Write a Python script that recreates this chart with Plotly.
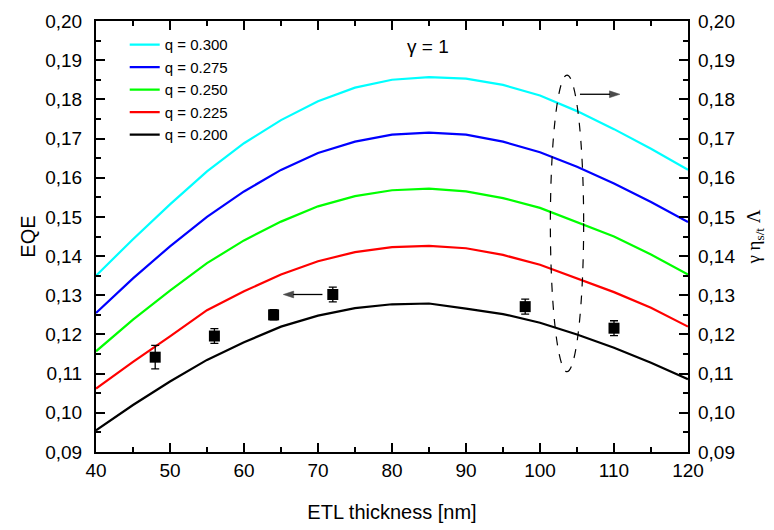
import plotly.graph_objects as go

# ---- data ----
thickness = [40, 45, 50, 55, 60, 65, 70, 75, 80, 85, 90, 95, 100, 105, 110, 115, 120]
q_labels = ["q = 0.300", "q = 0.275", "q = 0.250", "q = 0.225", "q = 0.200"]
q_colors = ["#00FFFF", "#0000FF", "#00FF00", "#FF0000", "#000000"]
eqe_q300 = [0.1350, 0.1443, 0.1532, 0.1616, 0.1688, 0.1747, 0.1795, 0.1830, 0.1850, 0.1857, 0.1853, 0.1837, 0.1810, 0.1770, 0.1724, 0.1674, 0.1620]
eqe_q275 = [0.1255, 0.1343, 0.1425, 0.1500, 0.1565, 0.1620, 0.1663, 0.1692, 0.1710, 0.1715, 0.1710, 0.1692, 0.1665, 0.1628, 0.1585, 0.1538, 0.1487]
eqe_q250 = [0.1157, 0.1238, 0.1312, 0.1382, 0.1440, 0.1488, 0.1527, 0.1553, 0.1568, 0.1572, 0.1565, 0.1548, 0.1523, 0.1486, 0.1450, 0.1404, 0.1353]
eqe_q225 = [0.1062, 0.1130, 0.1195, 0.1262, 0.1310, 0.1353, 0.1387, 0.1410, 0.1423, 0.1426, 0.1420, 0.1403, 0.1378, 0.1344, 0.1308, 0.1268, 0.1220]
eqe_q200 = [0.0955, 0.1020, 0.1080, 0.1135, 0.1180, 0.1220, 0.1248, 0.1267, 0.1277, 0.1279, 0.1266, 0.1252, 0.1230, 0.1200, 0.1166, 0.1128, 0.1086]
curves = [eqe_q300, eqe_q275, eqe_q250, eqe_q225, eqe_q200]

exp_thickness = [48, 56, 64, 72, 98, 110]
exp_eqe = [0.1142, 0.1196, 0.1250, 0.1302, 0.1271, 0.1216]
exp_err = [0.0030, 0.0019, 0.0013, 0.0019, 0.0019, 0.0019]

x_ticks = [40, 50, 60, 70, 80, 90, 100, 110, 120]
y_ticks = [0.09, 0.10, 0.11, 0.12, 0.13, 0.14, 0.15, 0.16, 0.17, 0.18, 0.19, 0.20]

# pointer arrows (tail -> head)
arrow_left_x = [70.6, 65.3]
arrow_left_y = [0.1302, 0.1302]
arrow_right_x = [105.4, 110.8]
arrow_right_y = [0.1813, 0.1813]

FONT = "Liberation Sans, Arial, sans-serif"

fig = go.Figure()
for lab, col, ys in zip(q_labels, q_colors, curves):
    fig.add_trace(go.Scatter(x=thickness, y=ys, mode="lines", name=lab,
                             line=dict(color=col, width=2.2)))

fig.add_trace(go.Scatter(
    x=exp_thickness, y=exp_eqe, mode="markers", showlegend=False,
    marker=dict(symbol="square", size=11, color="black"),
    error_y=dict(type="data", array=exp_err, visible=True, color="black",
                 thickness=1.3, width=4)))

for ax_, ay_ in [(arrow_left_x, arrow_left_y), (arrow_right_x, arrow_right_y)]:
    fig.add_trace(go.Scatter(
        x=ax_, y=ay_, mode="lines+markers", showlegend=False, hoverinfo="skip",
        line=dict(color="black", width=1.3),
        marker=dict(symbol="arrow", size=[0, 11], angleref="previous", color="black",
                    line=dict(width=0.5, color="black"))))

# invisible trace for right axis
fig.add_trace(go.Scatter(x=[40], y=[0.09], yaxis="y2", mode="markers",
                         marker=dict(opacity=0), showlegend=False, hoverinfo="skip"))

axis_common = dict(showline=True, linecolor="black", linewidth=2, showgrid=False,
                   zeroline=False, ticks="inside", ticklen=9, tickwidth=1.5, automargin=False,
                   tickcolor="black", tickfont=dict(family=FONT, size=19, color="black"))

fig.update_layout(
    width=766, height=522,
    margin=dict(l=88, r=86, t=13, b=78),
    paper_bgcolor="white", plot_bgcolor="white",
    separators=",.",
    font=dict(family=FONT, color="black"),
    xaxis=dict(range=[40, 120], tickvals=x_ticks, mirror="ticks",
               minor=dict(ticks="inside", dtick=5, ticklen=5, tickwidth=1.5, tickcolor="black"),
               title=dict(text="ETL thickness [nm]", font=dict(family=FONT, size=20), standoff=25),
               ticklabelstandoff=0, **axis_common),
    yaxis=dict(range=[0.09, 0.20], tickvals=y_ticks, tickformat=".2f", mirror="ticks",
               minor=dict(ticks="inside", dtick=0.005, ticklen=5, tickwidth=1.5, tickcolor="black"),
               title=dict(text="EQE", font=dict(family=FONT, size=20), standoff=4),
               ticklabelstandoff=8, **axis_common),
    yaxis2=dict(range=[0.09, 0.20], tickvals=y_ticks, tickformat=".2f", overlaying="y",
                side="right", showline=False, showgrid=False, zeroline=False, ticks="",
                automargin=False,
                tickfont=dict(family=FONT, size=19, color="black"), ticklabelstandoff=9,
                title=dict(text="γ η<sub>s/t</sub> Λ",
                           font=dict(family="Liberation Serif, serif", size=19), standoff=12)),
    legend=dict(x=0.0485, y=0.983, xanchor="left", yanchor="top", bgcolor="rgba(0,0,0,0)",
                font=dict(family=FONT, size=15), tracegroupgap=0),
    shapes=[dict(type="circle", xref="x", yref="y", x0=101.4, x1=105.9, y0=0.1105, y1=0.1862,
                 line=dict(color="black", width=1.2, dash="dash"))],
    annotations=[
        dict(x=84.9, y=0.1936, xref="x", yref="y", text="γ = 1", showarrow=False,
             font=dict(family=FONT, size=19, color="black")),
    ],
)

fig.write_html("out.html")
